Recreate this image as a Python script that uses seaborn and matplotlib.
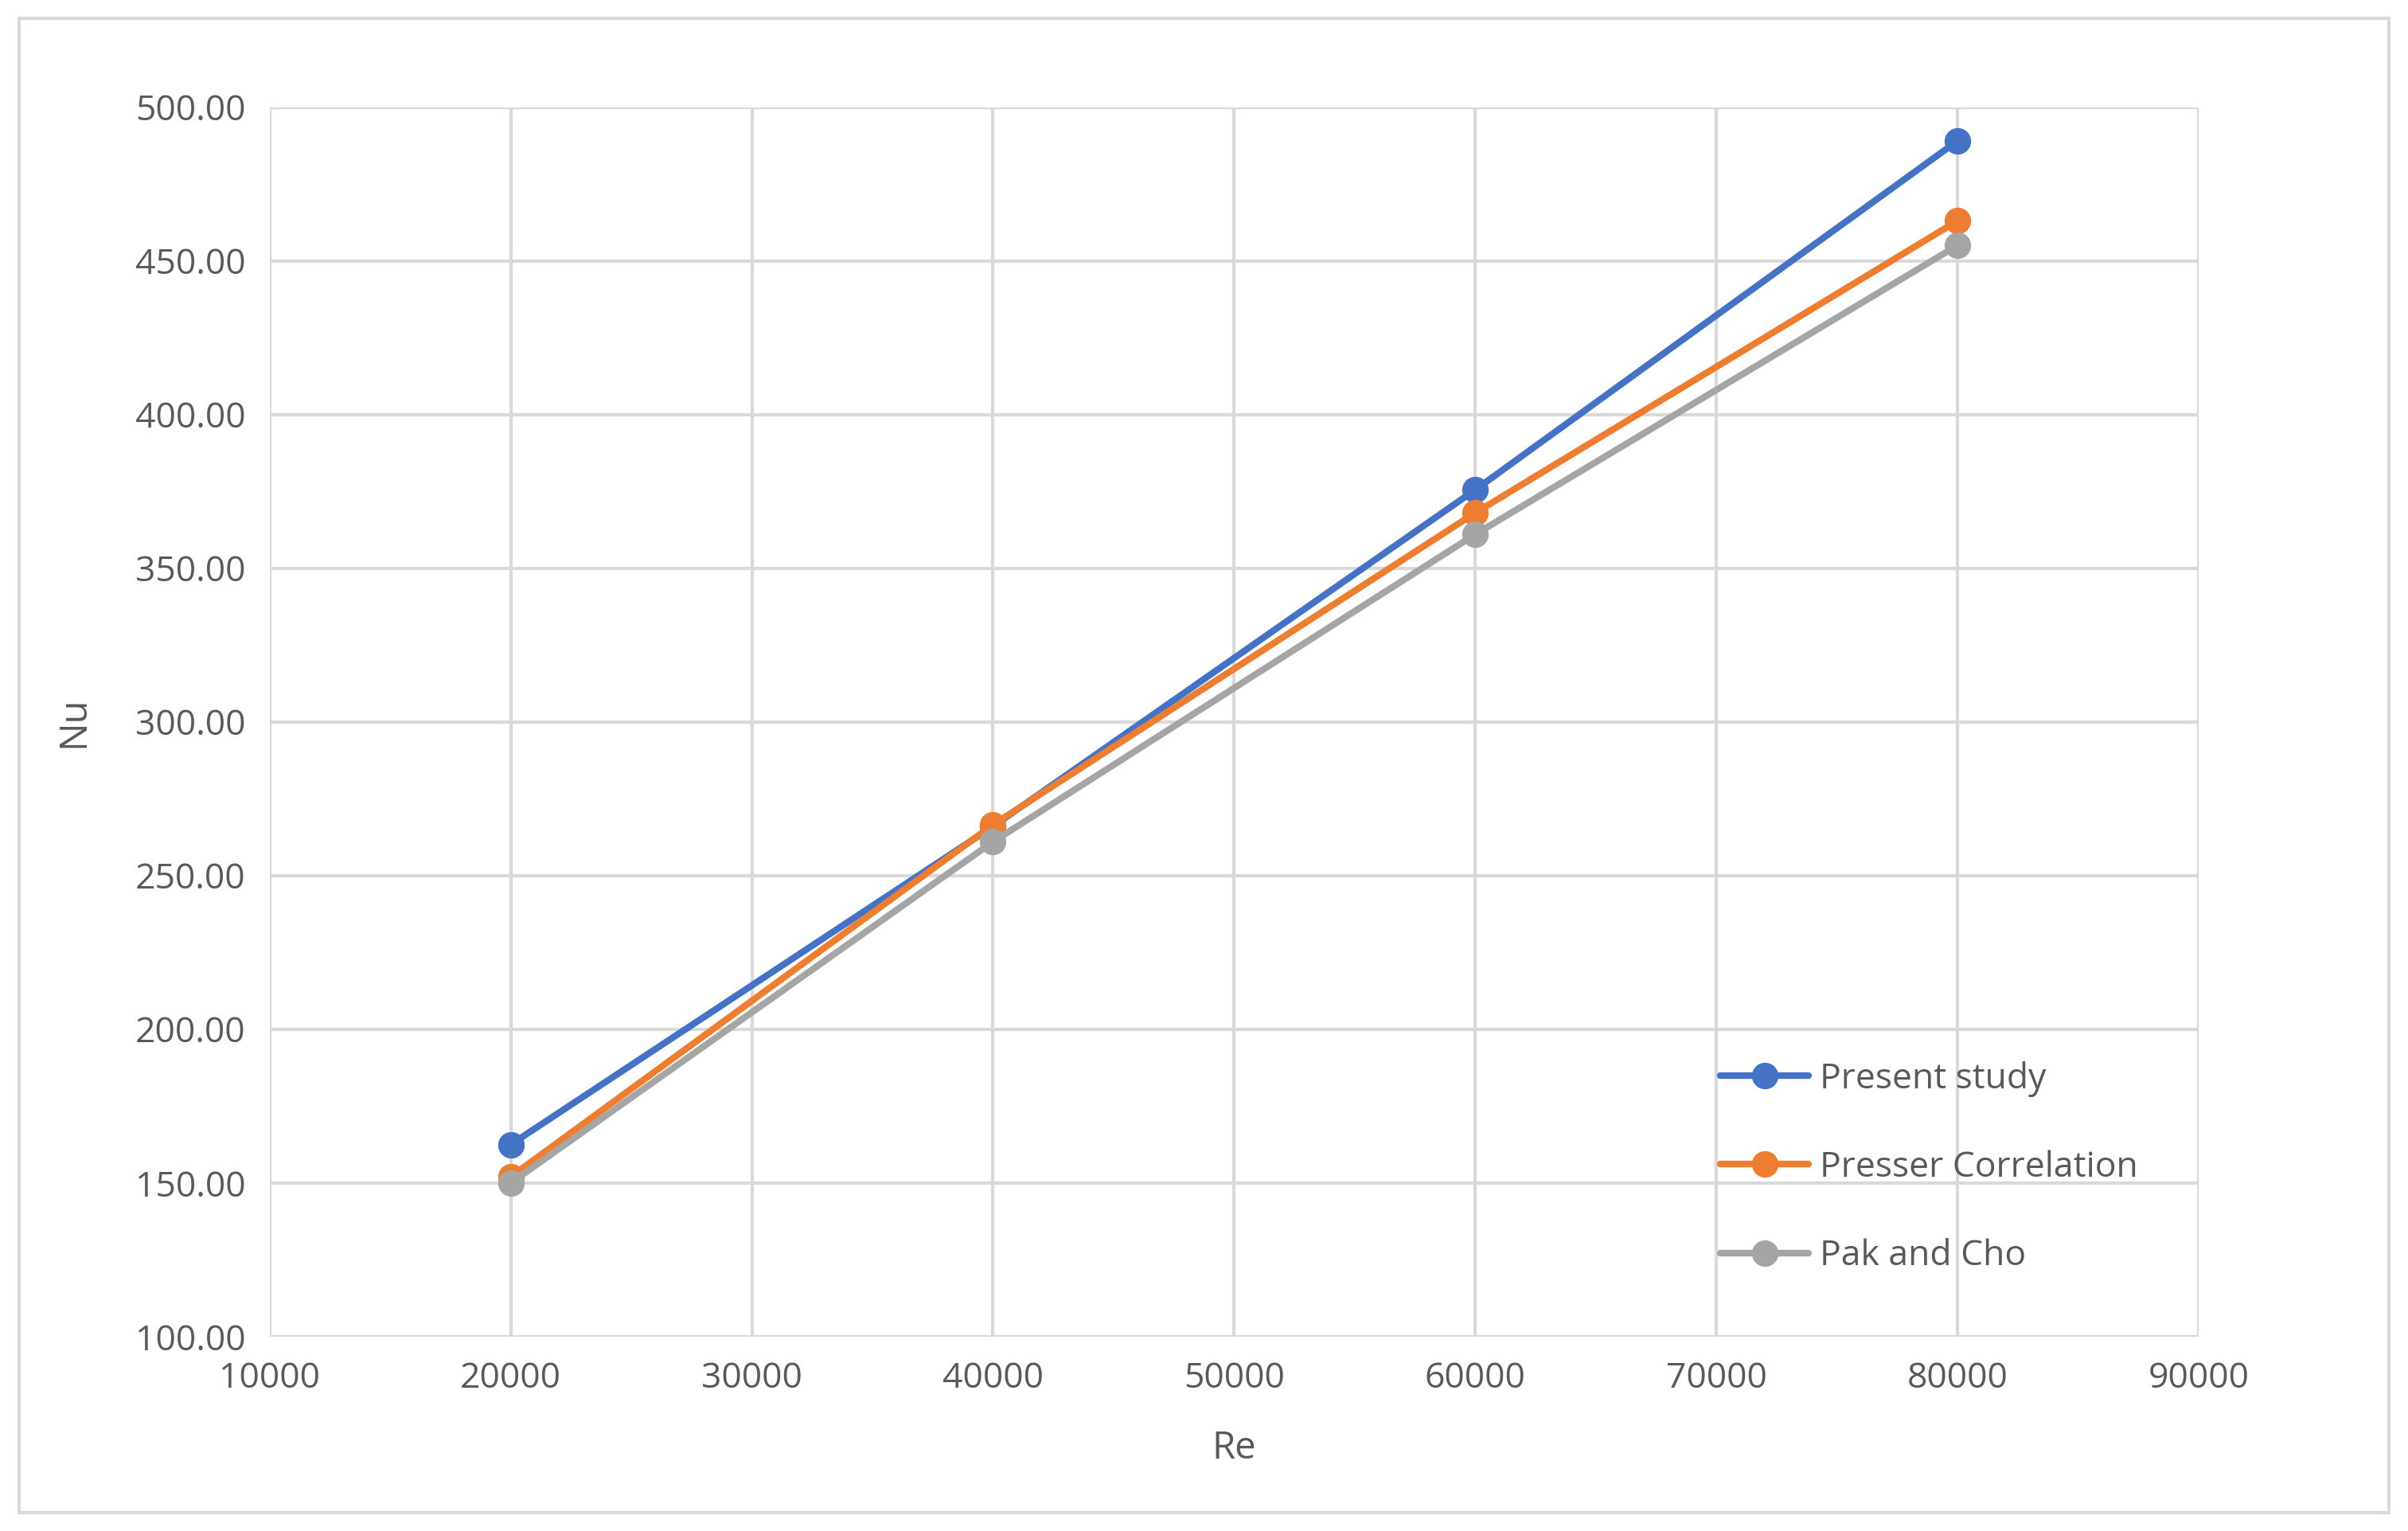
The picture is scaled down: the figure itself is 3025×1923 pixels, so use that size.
import matplotlib
matplotlib.use("Agg")
import matplotlib.pyplot as plt
import seaborn as sns
import pandas as pd

re_vals = [20000, 40000, 60000, 80000]
present_study = [162.5, 266.0, 375.5, 489.0]
presser = [152.0, 266.5, 368.0, 463.0]
pak_cho = [150.0, 261.0, 361.0, 455.0]
series_names = ["Present study", "Presser Correlation", "Pak and Cho"]
colors = ["#4472C4", "#ED7D31", "#A5A5A5"]

df = pd.concat([
    pd.DataFrame({"Re": re_vals, "Nu": vals, "series": name})
    for name, vals in zip(series_names, [present_study, presser, pak_cho])
])

sns.set_style("white")
plt.rcParams["font.family"] = ["Open Sans", "DejaVu Sans"]
txt = "#595959"

fig = plt.figure(figsize=(30.25, 19.23), dpi=100)
ax = fig.add_axes([0.112, 0.127, 0.801, 0.803])
sns.lineplot(data=df, x="Re", y="Nu", hue="series", palette=colors,
             marker="o", markersize=24, markeredgewidth=0, linewidth=6,
             ax=ax)

ax.set_xlim(10000, 90000)
ax.set_ylim(100, 500)
ax.set_xticks(range(10000, 90001, 10000))
ax.set_yticks(range(100, 501, 50))
ax.set_yticklabels([f"{v:.2f}" for v in range(100, 501, 50)])
ax.grid(True, color="#D9D9D9", linewidth=3)
for s in ax.spines.values():
    s.set_visible(False)
ax.tick_params(labelsize=32, colors=txt, length=0, pad=22)
ax.set_xlabel("Re", fontsize=34, color=txt, labelpad=30)
ax.set_ylabel("Nu", fontsize=34, color=txt, labelpad=38)

leg = ax.legend(loc="lower right", bbox_to_anchor=(0.985, 0.025), frameon=False,
                fontsize=32, labelspacing=1.5, handlelength=2.5,
                handletextpad=0.3)
for t in leg.get_texts():
    t.set_color(txt)

fig.patches.append(plt.Rectangle((0.008, 0.012), 0.984, 0.976, fill=False,
                                 edgecolor="#D9D9D9", linewidth=3,
                                 transform=fig.transFigure))
fig.savefig("out.png", dpi=100, facecolor="white")
